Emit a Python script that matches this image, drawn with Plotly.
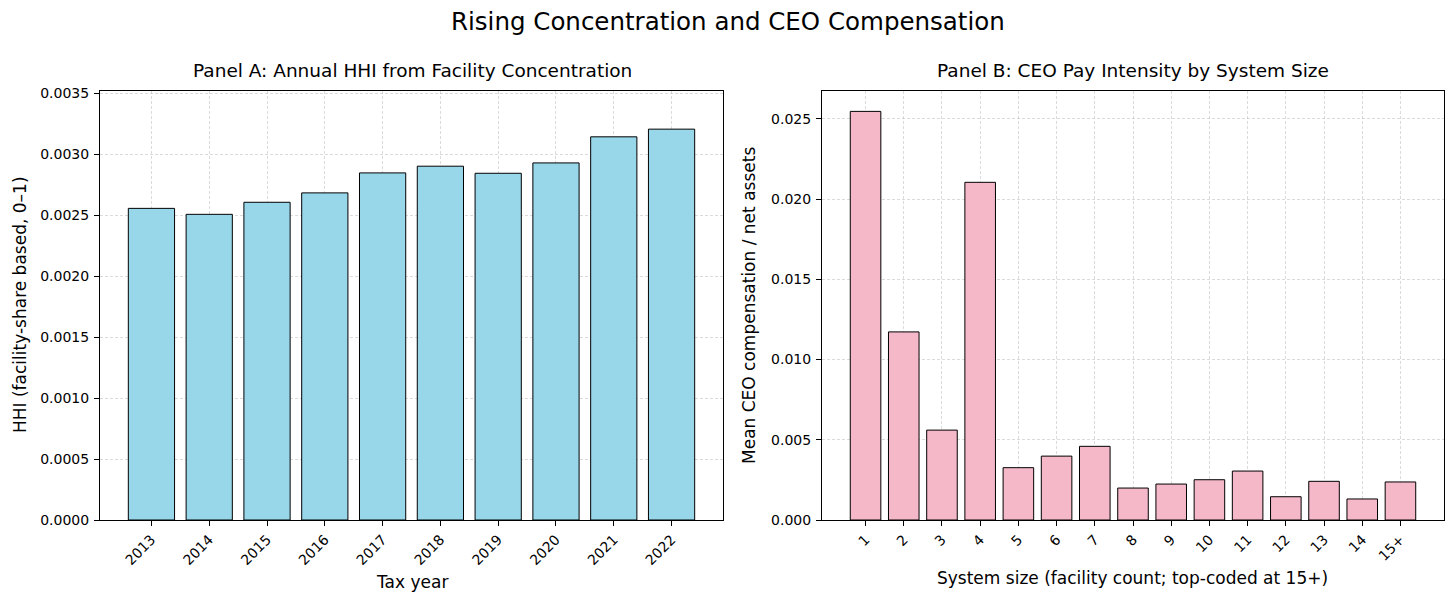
import plotly.graph_objects as go

years = ["2013", "2014", "2015", "2016", "2017", "2018", "2019", "2020", "2021", "2022"]
hhi = [0.002557, 0.002508, 0.002607, 0.002684, 0.002848, 0.002903, 0.002845, 0.002930, 0.003144, 0.003207]

sizes = ["1", "2", "3", "4", "5", "6", "7", "8", "9", "10", "11", "12", "13", "14", "15+"]
pay = [0.02546, 0.01172, 0.00560, 0.02104, 0.00326, 0.00398, 0.00459, 0.00199,
       0.00224, 0.00251, 0.00305, 0.00145, 0.00241, 0.00131, 0.00237]

FONT = "DejaVu Sans"
W, H = 1456, 604

fig = go.Figure()
fig.add_trace(go.Bar(x=years, y=hhi, width=0.8, xaxis="x", yaxis="y",
                     marker=dict(color="#98D7EA", line=dict(color="black", width=1)),
                     showlegend=False))
fig.add_trace(go.Bar(x=sizes, y=pay, width=0.8, xaxis="x2", yaxis="y2",
                     marker=dict(color="#F5B8C9", line=dict(color="black", width=1)),
                     showlegend=False))

grid = dict(showgrid=True, gridcolor="rgba(170,170,170,0.42)", griddash="3px,2px", gridwidth=0.8)
common = dict(showline=True, linecolor="black", linewidth=1, mirror=True,
              ticks="outside", ticklen=5, tickwidth=1, tickcolor="black",
              tickfont=dict(family=FONT, size=14, color="black"),
              zeroline=False, layer="above traces", automargin=False, **grid)

xa0, xa1 = 100 / W, 723 / W
xb0, xb1 = 822 / W, 1444 / W
y0, y1 = (H - 520) / H, (H - 91) / H

fig.update_layout(
    width=W, height=H,
    margin=dict(l=0, r=0, t=0, b=0),
    paper_bgcolor="white", plot_bgcolor="white",
    font=dict(family=FONT, color="black"),
    bargap=0.2,
    xaxis=dict(domain=[xa0, xa1], anchor="y", type="category", range=[-0.89, 9.89],
               tickangle=-45, **common),
    yaxis=dict(domain=[y0, y1], anchor="x", range=[0, 0.00352], tickformat=".4f",
               dtick=0.0005, ticklabelstandoff=2, **common),
    xaxis2=dict(domain=[xb0, xb1], anchor="y2", type="category", range=[-1.14, 15.14],
                tickangle=-45, **common),
    yaxis2=dict(domain=[y0, y1], anchor="x2", range=[0, 0.02673], tickformat=".3f",
                dtick=0.005, ticklabelstandoff=2, **common),
)

def ann(text, x, y, size, angle=0):
    fig.add_annotation(text=text, x=x / W, y=1 - y / H, xref="paper", yref="paper",
                       showarrow=False, textangle=angle, xanchor="center", yanchor="middle",
                       font=dict(family=FONT, size=size, color="black"))

ann("Rising Concentration and CEO Compensation", 728, 22, 24.5)
ann("Panel A: Annual HHI from Facility Concentration", 412, 70, 18.5)
ann("Panel B: CEO Pay Intensity by System Size", 1133, 70, 18.5)
ann("HHI (facility-share based, 0\u20131)", 20, 305, 17, -90)
ann("Mean CEO compensation / net assets", 749, 305, 17, -90)
ann("Tax year", 412, 582, 17)
ann("System size (facility count; top-coded at 15+)", 1132, 578, 17)

fig.write_html("out.html", config={"displayModeBar": False},
               post_script="document.body.style.margin='0';document.body.style.overflow='hidden';")
